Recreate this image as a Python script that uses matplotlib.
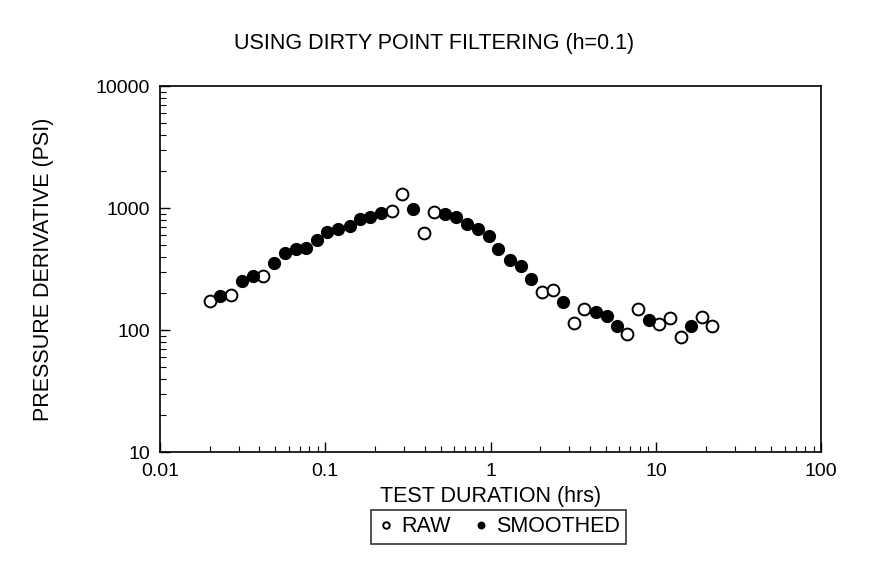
import matplotlib
matplotlib.use("Agg")
import matplotlib.pyplot as plt
from matplotlib.ticker import LogLocator, FixedLocator, FixedFormatter, NullFormatter

plt.rcParams['font.family'] = ['Liberation Sans', 'DejaVu Sans']

title = "USING DIRTY POINT FILTERING (h=0.1)"
xlabel = "TEST DURATION (hrs)"
ylabel = "PRESSURE DERIVATIVE (PSI)"

raw_t = [0.0201, 0.0271, 0.0423, 0.2535, 0.2927, 0.395, 0.457, 2.05, 2.38,
         3.21, 3.70, 6.73, 7.84, 10.5, 12.2, 14.1, 19.0, 22.0]
raw_p = [173, 195, 277, 951, 1302, 628, 922, 204, 214,
         114, 149, 93, 149, 112, 126, 88, 128, 107]

smooth_t = [0.0231, 0.0312, 0.0366, 0.0491, 0.0569, 0.0663, 0.0766, 0.0889,
            0.1031, 0.1195, 0.1406, 0.1617, 0.1866, 0.2186, 0.341, 0.533,
            0.621, 0.723, 0.838, 0.972, 1.117, 1.308, 1.524, 1.762, 2.75,
            4.33, 5.04, 5.85, 9.05, 16.4]
smooth_p = [191, 254, 275, 356, 425, 458, 470, 547,
            632, 673, 712, 817, 849, 905, 987, 893,
            839, 735, 673, 589, 458, 375, 337, 264, 171,
            141, 131, 107, 121, 107]

xticks = [0.01, 0.1, 1, 10, 100]
xticklabels = ["0.01", "0.1", "1", "10", "100"]
yticks = [10, 100, 1000, 10000]
yticklabels = ["10", "100", "1000", "10000"]

fig = plt.figure(figsize=(8.69, 5.74), dpi=100)
ax = fig.add_axes([0.184, 0.2125, 0.761, 0.6375])

ax.plot(raw_t, raw_p, linestyle='none', marker='o', markersize=8.5,
        markerfacecolor='white', markeredgecolor='black', markeredgewidth=1.4,
        label='RAW')
ax.plot(smooth_t, smooth_p, linestyle='none', marker='o', markersize=8.5,
        markerfacecolor='black', markeredgecolor='black', label='SMOOTHED')

ax.set_xscale('log')
ax.set_yscale('log')
ax.set_xlim(0.01, 100)
ax.set_ylim(10, 10000)

ax.xaxis.set_major_locator(FixedLocator(xticks))
ax.xaxis.set_major_formatter(FixedFormatter(xticklabels))
ax.yaxis.set_major_locator(FixedLocator(yticks))
ax.yaxis.set_major_formatter(FixedFormatter(yticklabels))
ax.xaxis.set_minor_locator(LogLocator(base=10, subs=range(2, 10), numticks=20))
ax.yaxis.set_minor_locator(LogLocator(base=10, subs=range(2, 10), numticks=20))
ax.xaxis.set_minor_formatter(NullFormatter())
ax.yaxis.set_minor_formatter(NullFormatter())

ax.tick_params(which='major', direction='in', length=7, width=1, labelsize=14)
ax.tick_params(axis='x', which='major', pad=8)
ax.tick_params(axis='y', which='major', pad=7)
ax.tick_params(which='minor', direction='in', length=4, width=0.8)
for s in ax.spines.values():
    s.set_linewidth(1.2)

ax.set_xlabel(xlabel, fontsize=15.5, labelpad=4)
ax.set_ylabel(ylabel, fontsize=15.5, labelpad=30)
fig.text(0.5, 0.925, title, ha='center', va='center', fontsize=15.5)

leg = fig.legend(loc='center', bbox_to_anchor=(0.574, 0.082), ncol=2,
                 frameon=True, fancybox=False, edgecolor='black',
                 fontsize=15.5, markerscale=0.55, handletextpad=0.3,
                 columnspacing=1.0, handlelength=0.8, borderpad=0.3)
leg.get_frame().set_linewidth(1.2)

fig.savefig("out.png", dpi=100)
